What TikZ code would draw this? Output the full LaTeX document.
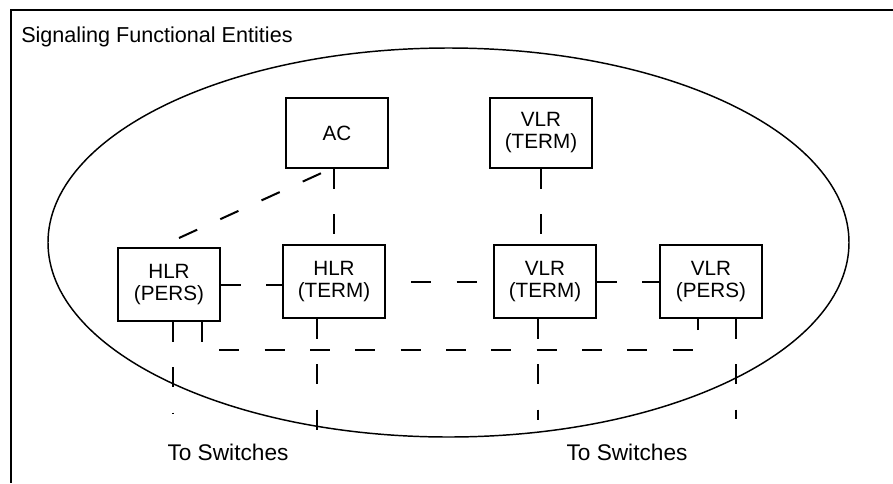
\documentclass[tikz,border=0pt]{standalone}
\usepackage{fontspec}
\setmainfont{Liberation Sans}
\usetikzlibrary{positioning,calc}

\begin{document}
\begin{tikzpicture}[x=.75pt,y=-.75pt,
 n/.style={draw,line width=1.5pt,minimum width=76.5pt,minimum height=54.75pt,inner sep=0pt,align=center,font=\fontsize{15.5}{16.5}\selectfont},
 d/.style={line width=1.5pt,dash pattern=on 15pt off 19pt},
 lbl/.style={inner sep=0pt,font=\fontsize{17}{19}\selectfont}]
\useasboundingbox (0,0) rectangle (893,483);
\draw[line width=1.5pt] (893,10) -- (11,10) -- (11,483);
\node[lbl,anchor=west,font=\fontsize{16.2}{18}\selectfont] (title) at (21,37) {Signaling Functional Entities};
\draw[line width=1.1pt] (448.5,242.5) ellipse [x radius=400.5,y radius=194.5];
\node[n,minimum height=52.5pt] (ac) at (337,133) {AC};
\node[n,minimum height=52.5pt] (vt) at (541,133) {VLR\\(TERM)};
\node[n] (hp) at (169,284.5) {HLR\\(PERS)};
\node[n] (ht) at (334,281.5) {HLR\\(TERM)};
\node[n] (vr) at (545,281.5) {VLR\\(TERM)};
\node[n] (vp) at (711,281.5) {VLR\\(PERS)};
\node[lbl] (to1) at (228,452) {To Switches};
\node[lbl] (to2) at (627,452) {To Switches};
\coordinate (hd) at (179,238);
\coordinate (s1) at (173,413);
\coordinate (s2) at (317,445);
\coordinate (s3) at (538,420);
\coordinate (s4) at (736,419);
% links between entities
\draw[d] (hd) -- ([xshift=-5pt]ac.south);
\draw[d] (ht.north |- ac.south) -- (ht.north);
\draw[d] (vt.south) -- (vt.south |- vr.north);
\draw[d] (hp.east) -- (hp.east -| ht.west);
\draw[d,dash phase=15pt] (ht.east) -- (vr.west);
\draw[d] (vr.east) -- (vp.west);
\draw[d] ([xshift=24.75pt]hp.south) -- ++(0,28) -| ([xshift=-9.75pt]vp.south);
% to switches
\draw[d] (hp.south -| s1) -- (s1);
\draw[d] (ht.south -| s2) -- (s2);
\draw[d] (vr.south -| s3) -- (s3);
\draw[d] (vp.south -| s4) -- (s4);
\end{tikzpicture}
\end{document}
